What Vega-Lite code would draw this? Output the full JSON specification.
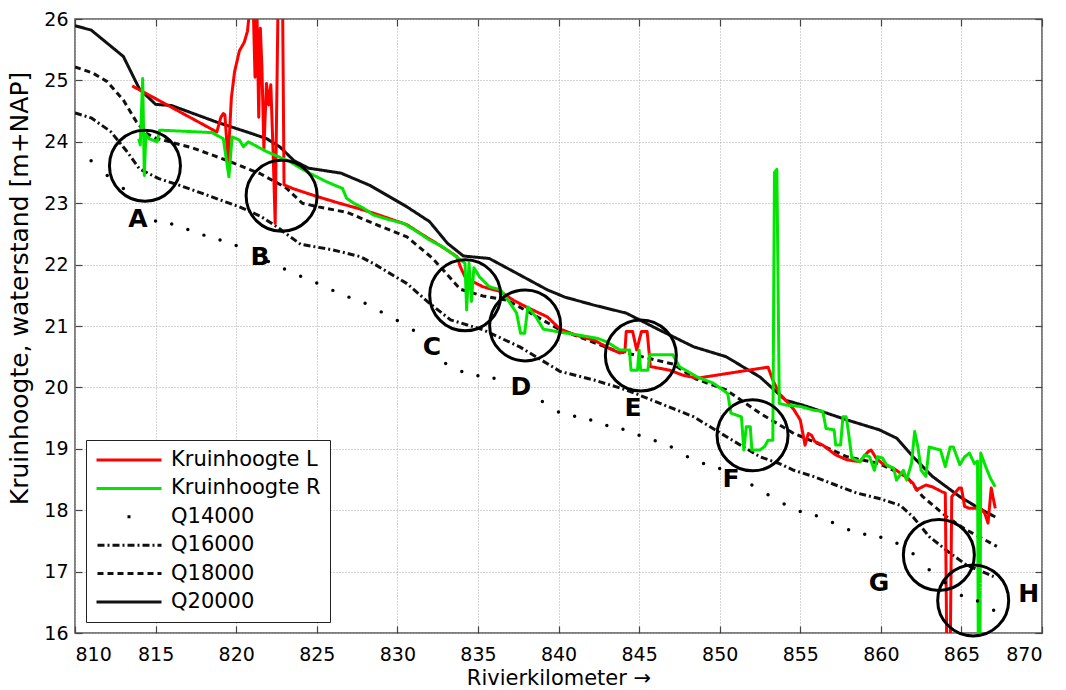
{
  "$schema": "https://vega.github.io/schema/vega-lite/v6.json",
  "width": 967,
  "height": 614,
  "autosize": {"type": "none"},
  "padding": {"left": 75, "top": 19, "right": 24, "bottom": 57},
  "background": "white",
  "config": {
    "font": "DejaVu Sans",
    "view": {"stroke": "#555", "strokeWidth": 1.5},
    "axis": {
      "labelFont": "DejaVu Sans", "labelFontSize": 19, "labelColor": "#000",
      "titleFont": "DejaVu Sans", "titleFontSize": 21, "titleFontWeight": "normal", "titleColor": "#000",
      "tickColor": "#444", "tickWidth": 1.2, "domain": false,
      "gridColor": "#aaaaaa", "gridDash": [1, 2], "gridWidth": 1, "gridOpacity": 1
    },
    "legend": {
      "orient": "bottom-left", "offset": 11, "padding": 9,
      "strokeColor": "#222", "fillColor": "#fff",
      "labelFont": "DejaVu Sans", "labelFontSize": 21, "labelColor": "#000", "labelLimit": 400,
      "symbolType": "stroke", "symbolSize": 4225, "symbolStrokeWidth": 2.5,
      "symbolDashOffset": -31, "clipHeight": 22, "rowPadding": 6.4, "labelOffset": 8
    }
  },
  "datasets": {
    "lines": [
      {"s": "Q20000", "x": 810.0, "y": 25.89},
      {"s": "Q20000", "x": 811.0, "y": 25.82},
      {"s": "Q20000", "x": 813.0, "y": 25.39},
      {"s": "Q20000", "x": 814.0, "y": 24.86},
      {"s": "Q20000", "x": 815.0, "y": 24.61},
      {"s": "Q20000", "x": 816.0, "y": 24.59},
      {"s": "Q20000", "x": 818.8, "y": 24.32},
      {"s": "Q20000", "x": 820.9, "y": 24.14},
      {"s": "Q20000", "x": 821.9, "y": 24.05},
      {"s": "Q20000", "x": 822.7, "y": 23.92},
      {"s": "Q20000", "x": 823.6, "y": 23.69},
      {"s": "Q20000", "x": 824.5, "y": 23.57},
      {"s": "Q20000", "x": 826.5, "y": 23.49},
      {"s": "Q20000", "x": 828.3, "y": 23.29},
      {"s": "Q20000", "x": 830.6, "y": 22.94},
      {"s": "Q20000", "x": 832.0, "y": 22.70},
      {"s": "Q20000", "x": 833.1, "y": 22.35},
      {"s": "Q20000", "x": 834.1, "y": 22.14},
      {"s": "Q20000", "x": 835.7, "y": 22.10},
      {"s": "Q20000", "x": 837.4, "y": 21.86},
      {"s": "Q20000", "x": 839.3, "y": 21.59},
      {"s": "Q20000", "x": 840.4, "y": 21.47},
      {"s": "Q20000", "x": 842.2, "y": 21.34},
      {"s": "Q20000", "x": 844.2, "y": 21.21},
      {"s": "Q20000", "x": 846.3, "y": 20.93},
      {"s": "Q20000", "x": 848.4, "y": 20.66},
      {"s": "Q20000", "x": 850.4, "y": 20.50},
      {"s": "Q20000", "x": 852.5, "y": 20.17},
      {"s": "Q20000", "x": 854.1, "y": 19.79},
      {"s": "Q20000", "x": 855.3, "y": 19.70},
      {"s": "Q20000", "x": 857.9, "y": 19.47},
      {"s": "Q20000", "x": 859.9, "y": 19.31},
      {"s": "Q20000", "x": 861.0, "y": 19.17},
      {"s": "Q20000", "x": 862.0, "y": 18.87},
      {"s": "Q20000", "x": 863.2, "y": 18.55},
      {"s": "Q20000", "x": 864.9, "y": 18.22},
      {"s": "Q20000", "x": 866.1, "y": 18.03},
      {"s": "Q20000", "x": 867.1, "y": 17.89},

      {"s": "Q18000", "x": 810.0, "y": 25.22},
      {"s": "Q18000", "x": 811.1, "y": 25.12},
      {"s": "Q18000", "x": 812.0, "y": 24.98},
      {"s": "Q18000", "x": 813.0, "y": 24.68},
      {"s": "Q18000", "x": 813.8, "y": 24.33},
      {"s": "Q18000", "x": 814.4, "y": 24.14},
      {"s": "Q18000", "x": 815.0, "y": 24.06},
      {"s": "Q18000", "x": 817.3, "y": 23.90},
      {"s": "Q18000", "x": 819.4, "y": 23.70},
      {"s": "Q18000", "x": 821.5, "y": 23.48},
      {"s": "Q18000", "x": 823.1, "y": 23.25},
      {"s": "Q18000", "x": 824.1, "y": 23.00},
      {"s": "Q18000", "x": 825.1, "y": 22.94},
      {"s": "Q18000", "x": 826.9, "y": 22.85},
      {"s": "Q18000", "x": 828.7, "y": 22.65},
      {"s": "Q18000", "x": 830.6, "y": 22.45},
      {"s": "Q18000", "x": 832.2, "y": 22.10},
      {"s": "Q18000", "x": 833.9, "y": 21.60},
      {"s": "Q18000", "x": 835.3, "y": 21.49},
      {"s": "Q18000", "x": 836.8, "y": 21.42},
      {"s": "Q18000", "x": 838.2, "y": 21.22},
      {"s": "Q18000", "x": 840.0, "y": 20.95},
      {"s": "Q18000", "x": 841.3, "y": 20.82},
      {"s": "Q18000", "x": 843.4, "y": 20.61},
      {"s": "Q18000", "x": 845.5, "y": 20.48},
      {"s": "Q18000", "x": 847.1, "y": 20.38},
      {"s": "Q18000", "x": 848.5, "y": 20.14},
      {"s": "Q18000", "x": 850.4, "y": 19.96},
      {"s": "Q18000", "x": 852.5, "y": 19.58},
      {"s": "Q18000", "x": 854.6, "y": 19.25},
      {"s": "Q18000", "x": 855.8, "y": 19.12},
      {"s": "Q18000", "x": 857.9, "y": 18.87},
      {"s": "Q18000", "x": 859.9, "y": 18.76},
      {"s": "Q18000", "x": 861.6, "y": 18.55},
      {"s": "Q18000", "x": 862.6, "y": 18.22},
      {"s": "Q18000", "x": 864.1, "y": 17.89},
      {"s": "Q18000", "x": 865.3, "y": 17.68},
      {"s": "Q18000", "x": 867.2, "y": 17.41},

      {"s": "Q16000", "x": 810.0, "y": 24.47},
      {"s": "Q16000", "x": 811.0, "y": 24.39},
      {"s": "Q16000", "x": 812.2, "y": 24.17},
      {"s": "Q16000", "x": 813.2, "y": 23.85},
      {"s": "Q16000", "x": 814.0, "y": 23.56},
      {"s": "Q16000", "x": 815.2, "y": 23.40},
      {"s": "Q16000", "x": 816.5, "y": 23.29},
      {"s": "Q16000", "x": 818.1, "y": 23.14},
      {"s": "Q16000", "x": 820.2, "y": 22.94},
      {"s": "Q16000", "x": 821.5, "y": 22.79},
      {"s": "Q16000", "x": 822.5, "y": 22.62},
      {"s": "Q16000", "x": 824.0, "y": 22.33},
      {"s": "Q16000", "x": 826.0, "y": 22.24},
      {"s": "Q16000", "x": 827.7, "y": 22.13},
      {"s": "Q16000", "x": 828.5, "y": 22.02},
      {"s": "Q16000", "x": 830.6, "y": 21.69},
      {"s": "Q16000", "x": 832.0, "y": 21.37},
      {"s": "Q16000", "x": 833.3, "y": 21.10},
      {"s": "Q16000", "x": 835.3, "y": 20.94},
      {"s": "Q16000", "x": 837.6, "y": 20.66},
      {"s": "Q16000", "x": 840.1, "y": 20.26},
      {"s": "Q16000", "x": 842.2, "y": 20.12},
      {"s": "Q16000", "x": 844.2, "y": 19.96},
      {"s": "Q16000", "x": 846.3, "y": 19.74},
      {"s": "Q16000", "x": 848.4, "y": 19.52},
      {"s": "Q16000", "x": 850.4, "y": 19.20},
      {"s": "Q16000", "x": 852.5, "y": 18.87},
      {"s": "Q16000", "x": 853.7, "y": 18.76},
      {"s": "Q16000", "x": 854.6, "y": 18.65},
      {"s": "Q16000", "x": 855.8, "y": 18.55},
      {"s": "Q16000", "x": 858.5, "y": 18.28},
      {"s": "Q16000", "x": 859.9, "y": 18.19},
      {"s": "Q16000", "x": 861.2, "y": 18.08},
      {"s": "Q16000", "x": 862.0, "y": 17.89},
      {"s": "Q16000", "x": 863.0, "y": 17.57},
      {"s": "Q16000", "x": 864.3, "y": 17.30},
      {"s": "Q16000", "x": 865.3, "y": 17.11},
      {"s": "Q16000", "x": 867.0, "y": 16.92},

      {"s": "Kruinhoogte L", "x": 813.55, "y": 24.91},
      {"s": "Kruinhoogte L", "x": 818.8, "y": 24.16},
      {"s": "Kruinhoogte L", "x": 819.05, "y": 24.40},
      {"s": "Kruinhoogte L", "x": 819.2, "y": 24.46},
      {"s": "Kruinhoogte L", "x": 819.3, "y": 24.44},
      {"s": "Kruinhoogte L", "x": 819.5, "y": 23.68},
      {"s": "Kruinhoogte L", "x": 819.7, "y": 24.71},
      {"s": "Kruinhoogte L", "x": 819.9, "y": 25.14},
      {"s": "Kruinhoogte L", "x": 820.2, "y": 25.48},
      {"s": "Kruinhoogte L", "x": 820.5, "y": 25.62},
      {"s": "Kruinhoogte L", "x": 820.7, "y": 25.80},
      {"s": "Kruinhoogte L", "x": 820.9, "y": 26.3},
      {"s": "Kruinhoogte L", "x": 821.05, "y": 26.3},
      {"s": "Kruinhoogte L", "x": 821.17, "y": 25.05},
      {"s": "Kruinhoogte L", "x": 821.28, "y": 26.3},
      {"s": "Kruinhoogte L", "x": 821.4, "y": 24.4},
      {"s": "Kruinhoogte L", "x": 821.5, "y": 25.85},
      {"s": "Kruinhoogte L", "x": 821.6, "y": 25.2},
      {"s": "Kruinhoogte L", "x": 821.72, "y": 23.87},
      {"s": "Kruinhoogte L", "x": 821.88, "y": 24.95},
      {"s": "Kruinhoogte L", "x": 822.02, "y": 24.6},
      {"s": "Kruinhoogte L", "x": 822.15, "y": 24.93},
      {"s": "Kruinhoogte L", "x": 822.3, "y": 23.76},
      {"s": "Kruinhoogte L", "x": 822.42, "y": 22.67},
      {"s": "Kruinhoogte L", "x": 822.6, "y": 26.3},
      {"s": "Kruinhoogte L", "x": 822.88, "y": 26.3},
      {"s": "Kruinhoogte L", "x": 822.97, "y": 23.30},
      {"s": "Kruinhoogte L", "x": 823.5, "y": 23.24},
      {"s": "Kruinhoogte L", "x": 825.0, "y": 23.11},
      {"s": "Kruinhoogte L", "x": 826.4, "y": 23.0},
      {"s": "Kruinhoogte L", "x": 827.5, "y": 22.92},
      {"s": "Kruinhoogte L", "x": 828.5, "y": 22.84},
      {"s": "Kruinhoogte L", "x": 829.5, "y": 22.75},
      {"s": "Kruinhoogte L", "x": 830.6, "y": 22.65},
      {"s": "Kruinhoogte L", "x": 831.6, "y": 22.48},
      {"s": "Kruinhoogte L", "x": 832.6, "y": 22.32},
      {"s": "Kruinhoogte L", "x": 833.7, "y": 22.13},
      {"s": "Kruinhoogte L", "x": 833.9, "y": 21.97},
      {"s": "Kruinhoogte L", "x": 834.2, "y": 21.80},
      {"s": "Kruinhoogte L", "x": 834.7, "y": 21.72},
      {"s": "Kruinhoogte L", "x": 835.3, "y": 21.64},
      {"s": "Kruinhoogte L", "x": 836.4, "y": 21.56},
      {"s": "Kruinhoogte L", "x": 837.2, "y": 21.42},
      {"s": "Kruinhoogte L", "x": 838.0, "y": 21.31},
      {"s": "Kruinhoogte L", "x": 839.3, "y": 21.15},
      {"s": "Kruinhoogte L", "x": 840.1, "y": 20.95},
      {"s": "Kruinhoogte L", "x": 841.1, "y": 20.85},
      {"s": "Kruinhoogte L", "x": 842.2, "y": 20.77},
      {"s": "Kruinhoogte L", "x": 843.2, "y": 20.63},
      {"s": "Kruinhoogte L", "x": 843.8, "y": 20.56},
      {"s": "Kruinhoogte L", "x": 844.12, "y": 20.58},
      {"s": "Kruinhoogte L", "x": 844.2, "y": 20.91},
      {"s": "Kruinhoogte L", "x": 844.6, "y": 20.91},
      {"s": "Kruinhoogte L", "x": 844.85, "y": 20.61},
      {"s": "Kruinhoogte L", "x": 845.15, "y": 20.91},
      {"s": "Kruinhoogte L", "x": 845.5, "y": 20.91},
      {"s": "Kruinhoogte L", "x": 845.7, "y": 20.34},
      {"s": "Kruinhoogte L", "x": 846.9, "y": 20.28},
      {"s": "Kruinhoogte L", "x": 847.7, "y": 20.20},
      {"s": "Kruinhoogte L", "x": 848.6, "y": 20.15},
      {"s": "Kruinhoogte L", "x": 853.0, "y": 20.33},
      {"s": "Kruinhoogte L", "x": 853.3, "y": 20.12},
      {"s": "Kruinhoogte L", "x": 853.7, "y": 19.90},
      {"s": "Kruinhoogte L", "x": 854.1, "y": 19.79},
      {"s": "Kruinhoogte L", "x": 854.6, "y": 19.64},
      {"s": "Kruinhoogte L", "x": 855.0, "y": 19.47},
      {"s": "Kruinhoogte L", "x": 855.3, "y": 19.06},
      {"s": "Kruinhoogte L", "x": 855.5, "y": 19.25},
      {"s": "Kruinhoogte L", "x": 855.7, "y": 19.22},
      {"s": "Kruinhoogte L", "x": 855.9, "y": 19.12},
      {"s": "Kruinhoogte L", "x": 856.4, "y": 19.06},
      {"s": "Kruinhoogte L", "x": 857.2, "y": 18.90},
      {"s": "Kruinhoogte L", "x": 857.9, "y": 18.82},
      {"s": "Kruinhoogte L", "x": 858.7, "y": 18.79},
      {"s": "Kruinhoogte L", "x": 859.2, "y": 18.95},
      {"s": "Kruinhoogte L", "x": 859.4, "y": 18.98},
      {"s": "Kruinhoogte L", "x": 859.7, "y": 18.85},
      {"s": "Kruinhoogte L", "x": 860.1, "y": 18.76},
      {"s": "Kruinhoogte L", "x": 860.8, "y": 18.68},
      {"s": "Kruinhoogte L", "x": 861.5, "y": 18.55},
      {"s": "Kruinhoogte L", "x": 862.0, "y": 18.44},
      {"s": "Kruinhoogte L", "x": 862.2, "y": 18.33},
      {"s": "Kruinhoogte L", "x": 862.8, "y": 18.41},
      {"s": "Kruinhoogte L", "x": 863.2, "y": 18.38},
      {"s": "Kruinhoogte L", "x": 863.8, "y": 18.30},
      {"s": "Kruinhoogte L", "x": 864.0, "y": 18.28},
      {"s": "Kruinhoogte L", "x": 864.1, "y": 15.5},
      {"s": "Kruinhoogte L", "x": 864.3, "y": 15.5},
      {"s": "Kruinhoogte L", "x": 864.4, "y": 18.22},
      {"s": "Kruinhoogte L", "x": 864.85, "y": 18.36},
      {"s": "Kruinhoogte L", "x": 865.0, "y": 18.36},
      {"s": "Kruinhoogte L", "x": 865.2, "y": 18.06},
      {"s": "Kruinhoogte L", "x": 865.5, "y": 18.03},
      {"s": "Kruinhoogte L", "x": 866.2, "y": 18.03},
      {"s": "Kruinhoogte L", "x": 866.45, "y": 17.95},
      {"s": "Kruinhoogte L", "x": 866.65, "y": 17.79},
      {"s": "Kruinhoogte L", "x": 866.85, "y": 18.36},
      {"s": "Kruinhoogte L", "x": 867.1, "y": 18.03},

      {"s": "Kruinhoogte R", "x": 813.95, "y": 24.05},
      {"s": "Kruinhoogte R", "x": 814.05, "y": 23.95},
      {"s": "Kruinhoogte R", "x": 814.2, "y": 25.03},
      {"s": "Kruinhoogte R", "x": 814.3, "y": 23.45},
      {"s": "Kruinhoogte R", "x": 814.4, "y": 24.12},
      {"s": "Kruinhoogte R", "x": 814.6, "y": 24.05},
      {"s": "Kruinhoogte R", "x": 815.1, "y": 24.0},
      {"s": "Kruinhoogte R", "x": 815.25, "y": 24.19},
      {"s": "Kruinhoogte R", "x": 818.5, "y": 24.15},
      {"s": "Kruinhoogte R", "x": 819.2, "y": 24.05},
      {"s": "Kruinhoogte R", "x": 819.55, "y": 23.43},
      {"s": "Kruinhoogte R", "x": 819.75, "y": 24.08},
      {"s": "Kruinhoogte R", "x": 820.2, "y": 24.03},
      {"s": "Kruinhoogte R", "x": 820.45, "y": 23.92},
      {"s": "Kruinhoogte R", "x": 820.75, "y": 24.0},
      {"s": "Kruinhoogte R", "x": 821.9, "y": 23.84},
      {"s": "Kruinhoogte R", "x": 823.3, "y": 23.68},
      {"s": "Kruinhoogte R", "x": 824.4, "y": 23.51},
      {"s": "Kruinhoogte R", "x": 825.6, "y": 23.35},
      {"s": "Kruinhoogte R", "x": 826.6, "y": 23.24},
      {"s": "Kruinhoogte R", "x": 826.85, "y": 23.08},
      {"s": "Kruinhoogte R", "x": 827.3, "y": 23.0},
      {"s": "Kruinhoogte R", "x": 827.9, "y": 22.92},
      {"s": "Kruinhoogte R", "x": 828.5, "y": 22.81},
      {"s": "Kruinhoogte R", "x": 829.5, "y": 22.73},
      {"s": "Kruinhoogte R", "x": 830.4, "y": 22.67},
      {"s": "Kruinhoogte R", "x": 831.2, "y": 22.54},
      {"s": "Kruinhoogte R", "x": 832.0, "y": 22.40},
      {"s": "Kruinhoogte R", "x": 832.8, "y": 22.29},
      {"s": "Kruinhoogte R", "x": 833.5, "y": 22.16},
      {"s": "Kruinhoogte R", "x": 833.9, "y": 22.08},
      {"s": "Kruinhoogte R", "x": 834.2, "y": 22.02},
      {"s": "Kruinhoogte R", "x": 834.3, "y": 21.26},
      {"s": "Kruinhoogte R", "x": 834.45, "y": 22.02},
      {"s": "Kruinhoogte R", "x": 834.6, "y": 21.40},
      {"s": "Kruinhoogte R", "x": 834.75, "y": 21.95},
      {"s": "Kruinhoogte R", "x": 835.1, "y": 21.80},
      {"s": "Kruinhoogte R", "x": 835.7, "y": 21.64},
      {"s": "Kruinhoogte R", "x": 836.4, "y": 21.59},
      {"s": "Kruinhoogte R", "x": 837.0, "y": 21.37},
      {"s": "Kruinhoogte R", "x": 837.4, "y": 21.21},
      {"s": "Kruinhoogte R", "x": 837.65, "y": 20.88},
      {"s": "Kruinhoogte R", "x": 837.9, "y": 20.88},
      {"s": "Kruinhoogte R", "x": 838.1, "y": 21.31},
      {"s": "Kruinhoogte R", "x": 838.6, "y": 21.15},
      {"s": "Kruinhoogte R", "x": 839.05, "y": 20.95},
      {"s": "Kruinhoogte R", "x": 840.1, "y": 20.90},
      {"s": "Kruinhoogte R", "x": 841.3, "y": 20.85},
      {"s": "Kruinhoogte R", "x": 842.4, "y": 20.80},
      {"s": "Kruinhoogte R", "x": 843.0, "y": 20.74},
      {"s": "Kruinhoogte R", "x": 843.8, "y": 20.61},
      {"s": "Kruinhoogte R", "x": 844.4, "y": 20.61},
      {"s": "Kruinhoogte R", "x": 844.5, "y": 20.28},
      {"s": "Kruinhoogte R", "x": 844.9, "y": 20.28},
      {"s": "Kruinhoogte R", "x": 845.0, "y": 20.61},
      {"s": "Kruinhoogte R", "x": 845.1, "y": 20.28},
      {"s": "Kruinhoogte R", "x": 845.55, "y": 20.28},
      {"s": "Kruinhoogte R", "x": 845.65, "y": 20.53},
      {"s": "Kruinhoogte R", "x": 847.1, "y": 20.53},
      {"s": "Kruinhoogte R", "x": 847.5, "y": 20.34},
      {"s": "Kruinhoogte R", "x": 848.6, "y": 20.17},
      {"s": "Kruinhoogte R", "x": 849.6, "y": 20.07},
      {"s": "Kruinhoogte R", "x": 850.5, "y": 19.90},
      {"s": "Kruinhoogte R", "x": 850.7, "y": 19.58},
      {"s": "Kruinhoogte R", "x": 851.35, "y": 19.52},
      {"s": "Kruinhoogte R", "x": 851.5, "y": 18.98},
      {"s": "Kruinhoogte R", "x": 851.65, "y": 19.36},
      {"s": "Kruinhoogte R", "x": 851.9, "y": 19.36},
      {"s": "Kruinhoogte R", "x": 852.0, "y": 18.98},
      {"s": "Kruinhoogte R", "x": 852.5, "y": 18.98},
      {"s": "Kruinhoogte R", "x": 852.8, "y": 19.04},
      {"s": "Kruinhoogte R", "x": 853.0, "y": 19.14},
      {"s": "Kruinhoogte R", "x": 853.3, "y": 19.14},
      {"s": "Kruinhoogte R", "x": 853.4, "y": 23.50},
      {"s": "Kruinhoogte R", "x": 853.55, "y": 23.55},
      {"s": "Kruinhoogte R", "x": 853.7, "y": 19.74},
      {"s": "Kruinhoogte R", "x": 854.15, "y": 19.71},
      {"s": "Kruinhoogte R", "x": 855.0, "y": 19.69},
      {"s": "Kruinhoogte R", "x": 855.8, "y": 19.63},
      {"s": "Kruinhoogte R", "x": 856.4, "y": 19.61},
      {"s": "Kruinhoogte R", "x": 856.6, "y": 19.33},
      {"s": "Kruinhoogte R", "x": 857.1, "y": 19.31},
      {"s": "Kruinhoogte R", "x": 857.2, "y": 19.06},
      {"s": "Kruinhoogte R", "x": 857.5, "y": 19.06},
      {"s": "Kruinhoogte R", "x": 857.65, "y": 19.52},
      {"s": "Kruinhoogte R", "x": 857.85, "y": 19.52},
      {"s": "Kruinhoogte R", "x": 857.97, "y": 19.31},
      {"s": "Kruinhoogte R", "x": 858.2, "y": 18.85},
      {"s": "Kruinhoogte R", "x": 858.7, "y": 18.79},
      {"s": "Kruinhoogte R", "x": 859.0, "y": 18.90},
      {"s": "Kruinhoogte R", "x": 859.3, "y": 18.87},
      {"s": "Kruinhoogte R", "x": 859.6, "y": 18.65},
      {"s": "Kruinhoogte R", "x": 859.8, "y": 18.87},
      {"s": "Kruinhoogte R", "x": 860.1, "y": 18.85},
      {"s": "Kruinhoogte R", "x": 860.35, "y": 18.74},
      {"s": "Kruinhoogte R", "x": 860.8, "y": 18.68},
      {"s": "Kruinhoogte R", "x": 860.97, "y": 18.49},
      {"s": "Kruinhoogte R", "x": 861.4, "y": 18.65},
      {"s": "Kruinhoogte R", "x": 861.6, "y": 18.49},
      {"s": "Kruinhoogte R", "x": 861.9, "y": 18.76},
      {"s": "Kruinhoogte R", "x": 862.1, "y": 19.28},
      {"s": "Kruinhoogte R", "x": 862.3, "y": 19.03},
      {"s": "Kruinhoogte R", "x": 862.5, "y": 18.65},
      {"s": "Kruinhoogte R", "x": 862.8, "y": 18.55},
      {"s": "Kruinhoogte R", "x": 863.0, "y": 19.03},
      {"s": "Kruinhoogte R", "x": 863.4, "y": 19.00},
      {"s": "Kruinhoogte R", "x": 863.7, "y": 18.98},
      {"s": "Kruinhoogte R", "x": 864.0, "y": 18.71},
      {"s": "Kruinhoogte R", "x": 864.3, "y": 19.03},
      {"s": "Kruinhoogte R", "x": 864.5, "y": 19.03},
      {"s": "Kruinhoogte R", "x": 864.9, "y": 18.74},
      {"s": "Kruinhoogte R", "x": 865.2, "y": 18.87},
      {"s": "Kruinhoogte R", "x": 865.5, "y": 18.93},
      {"s": "Kruinhoogte R", "x": 865.8, "y": 18.76},
      {"s": "Kruinhoogte R", "x": 866.0, "y": 18.80},
      {"s": "Kruinhoogte R", "x": 866.05, "y": 15.5},
      {"s": "Kruinhoogte R", "x": 866.15, "y": 15.5},
      {"s": "Kruinhoogte R", "x": 866.2, "y": 18.93},
      {"s": "Kruinhoogte R", "x": 866.35, "y": 18.82},
      {"s": "Kruinhoogte R", "x": 866.55, "y": 18.68},
      {"s": "Kruinhoogte R", "x": 866.8, "y": 18.52},
      {"s": "Kruinhoogte R", "x": 867.1, "y": 18.38}
    ],
    "dots": [
      {"x": 811, "y": 23.69}, {"x": 812, "y": 23.45}, {"x": 813, "y": 23.24},
      {"x": 815, "y": 22.71}, {"x": 816, "y": 22.66}, {"x": 817, "y": 22.57},
      {"x": 818, "y": 22.48}, {"x": 819, "y": 22.40}, {"x": 820, "y": 22.31},
      {"x": 822, "y": 22.05}, {"x": 823, "y": 21.93}, {"x": 824, "y": 21.81},
      {"x": 825, "y": 21.70}, {"x": 826, "y": 21.58}, {"x": 827, "y": 21.47},
      {"x": 828, "y": 21.37}, {"x": 829, "y": 21.23}, {"x": 830, "y": 21.09},
      {"x": 831, "y": 20.93}, {"x": 833, "y": 20.39}, {"x": 834, "y": 20.26},
      {"x": 835, "y": 20.19}, {"x": 836, "y": 20.15}, {"x": 839, "y": 19.77},
      {"x": 840, "y": 19.60}, {"x": 841, "y": 19.53}, {"x": 842, "y": 19.47},
      {"x": 843, "y": 19.38}, {"x": 844, "y": 19.32}, {"x": 845, "y": 19.22},
      {"x": 846, "y": 19.13}, {"x": 847, "y": 19.03}, {"x": 848, "y": 18.87},
      {"x": 849, "y": 18.76}, {"x": 850, "y": 18.68}, {"x": 852, "y": 18.41},
      {"x": 853, "y": 18.25}, {"x": 854, "y": 18.10}, {"x": 855, "y": 17.98},
      {"x": 856, "y": 17.91}, {"x": 857, "y": 17.80}, {"x": 858, "y": 17.68},
      {"x": 859, "y": 17.61}, {"x": 860, "y": 17.56}, {"x": 861, "y": 17.46},
      {"x": 862, "y": 17.29}, {"x": 863, "y": 17.03}, {"x": 864, "y": 16.82},
      {"x": 865, "y": 16.61}, {"x": 866, "y": 16.52}, {"x": 867, "y": 16.37}
    ],
    "marks": [
      {"k": "A", "cx": 814.34, "cy": 23.61, "lx": 813.91, "ly": 22.74},
      {"k": "B", "cx": 822.82, "cy": 23.12, "lx": 821.48, "ly": 22.12},
      {"k": "C", "cx": 834.21, "cy": 21.50, "lx": 832.15, "ly": 20.66},
      {"k": "D", "cx": 837.93, "cy": 21.01, "lx": 837.67, "ly": 20.01},
      {"k": "E", "cx": 845.11, "cy": 20.52, "lx": 844.62, "ly": 19.66},
      {"k": "F", "cx": 852.04, "cy": 19.22, "lx": 850.7, "ly": 18.51},
      {"k": "G", "cx": 863.6, "cy": 17.27, "lx": 859.88, "ly": 16.81},
      {"k": "H", "cx": 865.73, "cy": 16.53, "lx": 869.18, "ly": 16.64}
    ]
  },
  "resolve": {"axis": {"x": "independent", "y": "independent"}},
  "layer": [
    {
      "data": {"name": "lines"},
      "mark": {"type": "line", "clip": true, "strokeJoin": "round"},
      "encoding": {
        "x": {"field": "x", "type": "quantitative",
          "scale": {"domain": [810, 870], "nice": false, "zero": false},
          "axis": {"orient": "bottom", "title": "Rivierkilometer →", "values": [810, 815, 820, 825, 830, 835, 840, 845, 850, 855, 860, 865, 870],
            "grid": true, "tickSize": -7, "labelPadding": 19, "titlePadding": 3}},
        "y": {"field": "y", "type": "quantitative",
          "scale": {"domain": [16, 26], "nice": false, "zero": false},
          "axis": {"orient": "left", "title": "Kruinhoogte, waterstand [m+NAP]", "values": [16, 17, 18, 19, 20, 21, 22, 23, 24, 25, 26],
            "grid": true, "tickSize": -7, "labelPadding": 14, "titlePadding": 11, "titleFontSize": 25, "titleY": 269}},
        "color": {"field": "s", "type": "nominal",
          "scale": {"domain": ["Kruinhoogte L", "Kruinhoogte R", "Q14000", "Q16000", "Q18000", "Q20000"],
            "range": ["#ff0000", "#00e600", "#000000", "#111111", "#111111", "#111111"]},
          "legend": {"title": null}},
        "strokeDash": {"field": "s", "type": "nominal",
          "scale": {"domain": ["Kruinhoogte L", "Kruinhoogte R", "Q14000", "Q16000", "Q18000", "Q20000"],
            "range": [[1, 0], [1, 0], [3, 200], [7, 3, 2, 3], [6, 4], [1, 0]]},
          "legend": {"title": null}},
        "strokeWidth": {"field": "s", "type": "ordinal",
          "scale": {"domain": ["Kruinhoogte L", "Kruinhoogte R", "Q14000", "Q16000", "Q18000", "Q20000"],
            "range": [3, 3, 2, 2, 2, 2]},
          "legend": null}
      }
    },
    {
      "data": {"name": "dots"},
      "mark": {"type": "point", "filled": true, "size": 12, "color": "#000", "opacity": 1},
      "encoding": {
        "x": {"field": "x", "type": "quantitative", "scale": {"domain": [810, 870], "nice": false, "zero": false},
          "axis": {"orient": "top", "title": null, "labels": false, "grid": false, "tickSize": -7, "values": [810, 815, 820, 825, 830, 835, 840, 845, 850, 855, 860, 865, 870]}},
        "y": {"field": "y", "type": "quantitative", "scale": {"domain": [16, 26], "nice": false, "zero": false},
          "axis": {"orient": "right", "title": null, "labels": false, "grid": false, "tickSize": -7, "values": [16, 17, 18, 19, 20, 21, 22, 23, 24, 25, 26]}}
      }
    },
    {
      "data": {"name": "marks"},
      "mark": {"type": "point", "shape": "circle", "filled": false, "size": 5041, "stroke": "#000", "strokeWidth": 3, "opacity": 1},
      "encoding": {
        "x": {"field": "cx", "type": "quantitative", "scale": {"domain": [810, 870], "nice": false, "zero": false}, "axis": null},
        "y": {"field": "cy", "type": "quantitative", "scale": {"domain": [16, 26], "nice": false, "zero": false}, "axis": null}
      }
    },
    {
      "data": {"name": "marks"},
      "mark": {"type": "text", "font": "DejaVu Sans", "fontWeight": "bold", "fontSize": 25, "color": "#000", "align": "center", "baseline": "middle"},
      "encoding": {
        "x": {"field": "lx", "type": "quantitative", "scale": {"domain": [810, 870], "nice": false, "zero": false}, "axis": null},
        "y": {"field": "ly", "type": "quantitative", "scale": {"domain": [16, 26], "nice": false, "zero": false}, "axis": null},
        "text": {"field": "k", "type": "nominal"}
      }
    }
  ]
}
